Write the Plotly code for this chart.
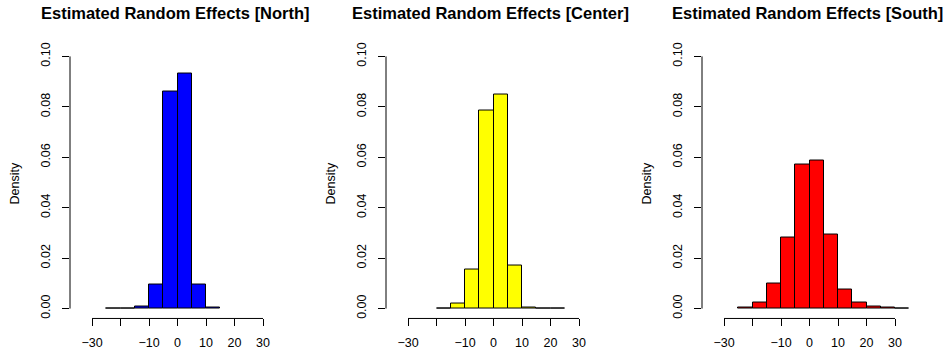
import plotly.graph_objects as go

# ---- data ----
bin_left_north = [-25, -20, -15, -10, -5, 0, 5, 10]
dens_north = [0.0001, 0.0001, 0.0008, 0.0097, 0.0859, 0.0931, 0.0095, 0.0003]

bin_left_center = [-20, -15, -10, -5, 0, 5, 10, 15, 20]
dens_center = [0.0002, 0.0021, 0.0155, 0.0784, 0.0848, 0.0171, 0.0005, 0.0002, 0.0002]

bin_left_south = [-25, -20, -15, -10, -5, 0, 5, 10, 15, 20, 25, 30]
dens_south = [0.0005, 0.0025, 0.0100, 0.0280, 0.0570, 0.0588, 0.0293, 0.0077, 0.0025, 0.0007, 0.0003, 0.0001]

bin_width = 5
titles = ["Estimated Random Effects [North]",
          "Estimated Random Effects [Center]",
          "Estimated Random Effects [South]"]
colors = ["#0000FF", "#FFFF00", "#FF0000"]
x_ticks = [-30, -20, -10, 0, 10, 20, 30]
x_tick_labels = ["\u221230", "", "\u221210", "0", "10", "20", "30"]
y_ticks = [0.00, 0.02, 0.04, 0.06, 0.08, 0.10]
y_label = "Density"

panels = [(bin_left_north, dens_north), (bin_left_center, dens_center), (bin_left_south, dens_south)]

W, H = 948, 359
FONT = "Liberation Sans, Arial, Helvetica, sans-serif"
panel_w = W / 3
plot_left = 70
plot_w = 210
top_px, bottom_px = 43, 318
x_range = [-37.72, 35.96]
y_range = [-0.00392, 0.10392]

fig = go.Figure()
shapes = []
annotations = []
for i, ((lefts, dens), col, title) in enumerate(zip(panels, colors, titles)):
    ax = "" if i == 0 else str(i + 1)
    xa, ya = "x" + ax, "y" + ax
    mids = [l + bin_width / 2 for l in lefts]
    fig.add_trace(go.Bar(
        x=mids, y=dens, width=bin_width,
        marker=dict(color=col, line=dict(color="black", width=1)),
        xaxis=xa, yaxis=ya, showlegend=False, hoverinfo="x+y"))
    x0 = (plot_left + i * panel_w) / W
    x1 = (plot_left + plot_w + i * panel_w) / W
    fig.layout["xaxis" + ax] = dict(
        domain=[x0, x1], range=x_range, anchor=ya,
        tickmode="array", tickvals=x_ticks, ticktext=x_tick_labels,
        ticks="outside", ticklen=7, tickwidth=1, tickcolor="black",
        showgrid=False, zeroline=False, showline=False,
        ticklabelstandoff=6,
        tickfont=dict(family=FONT, size=12.5, color="black"))
    fig.layout["yaxis" + ax] = dict(
        domain=[1 - bottom_px / H, 1 - top_px / H], range=y_range, anchor=xa,
        tickmode="array", tickvals=y_ticks, tickformat=".2f", tickangle=-90,
        ticks="outside", ticklen=7, tickwidth=1, tickcolor="black",
        showgrid=False, zeroline=False, showline=False,
        ticklabelstandoff=7,
        tickfont=dict(family=FONT, size=12.5, color="black"))
    # R-style axis lines spanning first to last tick
    shapes.append(dict(type="line", xref=xa, yref=ya + " domain",
                       x0=min(x_ticks), x1=max(x_ticks), y0=0, y1=0,
                       line=dict(color="black", width=1)))
    shapes.append(dict(type="line", xref=xa + " domain", yref=ya,
                       x0=0, x1=0, y0=min(y_ticks), y1=max(y_ticks),
                       line=dict(color="black", width=1)))
    annotations.append(dict(text="<b>" + title + "</b>", xref="paper", yref="paper",
                            x=(x0 + x1) / 2, y=1 - 9 / H, xanchor="center", yanchor="middle",
                            showarrow=False, font=dict(family=FONT, size=16.5, color="black")))
    annotations.append(dict(text=y_label, xref="paper", yref="paper",
                            x=(15 + i * panel_w) / W, y=1 - 181.5 / H,
                            xanchor="center", yanchor="middle", textangle=-90,
                            showarrow=False, font=dict(family=FONT, size=12.5, color="black")))

fig.update_layout(width=W, height=H, margin=dict(l=0, r=0, t=0, b=0),
                  paper_bgcolor="white", plot_bgcolor="white",
                  shapes=shapes, annotations=annotations, bargap=0)
fig.write_html("out.html")
